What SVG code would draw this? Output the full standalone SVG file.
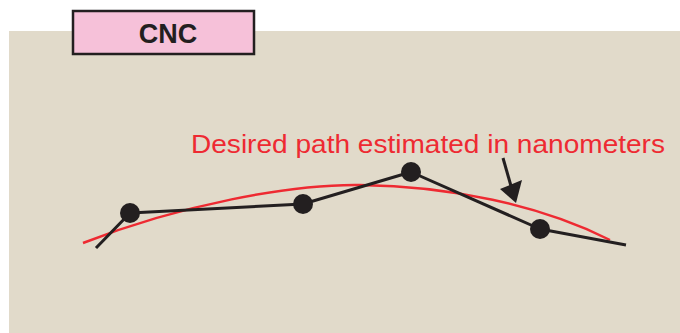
<svg xmlns="http://www.w3.org/2000/svg" width="680" height="333" viewBox="0 0 680 333">
  <style>
    .panel { fill: #E1DACA; }
    .tag { fill: #F6C1D9; stroke: #231F20; stroke-width: 2.5; }
    .tag-text { font-family: "Liberation Sans", Arial, sans-serif; font-weight: bold; font-size: 27px; fill: #231F20; }
    .label { font-family: "Liberation Sans", Arial, sans-serif; font-size: 25.5px; fill: #EE2A32; }
    .ideal { fill: none; stroke: #EE2A32; stroke-width: 2.5; }
    .segs { fill: none; stroke: #231F20; stroke-width: 3; stroke-linejoin: round; }
    .dot { fill: #231F20; }
    .pointer { stroke: #231F20; stroke-width: 3; fill: none; }
    .pointer-head { fill: #231F20; }
  </style>

  <rect class="panel" x="9" y="31" width="671" height="302"/>

  <g id="cnc-tag">
    <rect class="tag" x="73" y="11" width="181" height="43"/>
    <text class="tag-text" x="168" y="43" text-anchor="middle">CNC</text>
  </g>

  <g id="desired-path">
    <path class="ideal" d="M83,243 C180,205 290,184 360,185 C450,186 540,205 610,240"/>
  </g>

  <g id="connectors">
    <polyline class="segs" points="96,248 130,213 303,204 411,172 540,229 626,245"/>
    <line class="pointer" x1="503" y1="158" x2="511" y2="186"/>
    <polygon class="pointer-head" points="516,203 500,189 522,180"/>
  </g>

  <g id="points">
    <circle class="dot" cx="130" cy="213" r="10"/>
    <circle class="dot" cx="303" cy="204" r="10"/>
    <circle class="dot" cx="411" cy="172" r="10"/>
    <circle class="dot" cx="540" cy="229" r="10"/>
  </g>

  <g id="caption">
    <text class="label" x="191" y="153" textLength="474" lengthAdjust="spacingAndGlyphs">Desired path estimated in nanometers</text>
  </g>
</svg>
